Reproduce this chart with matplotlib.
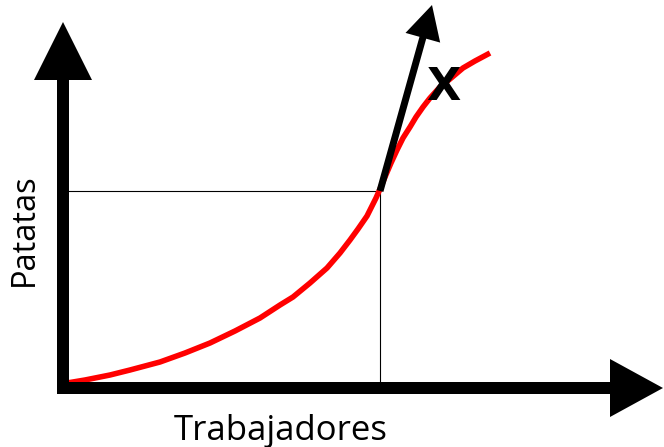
import matplotlib
matplotlib.use("Agg")
import matplotlib.pyplot as plt
from matplotlib.patches import FancyArrow

# red production curve (pixel coords, y down)
curve_x = [67, 85, 110, 130, 160, 185, 210, 235, 260, 280, 293, 310, 327, 340, 350,
           358, 367, 372, 376, 380, 385, 391, 397, 403, 410, 416, 423, 430, 440, 450, 463, 475, 490]
curve_y = [383, 380, 375, 370, 362, 353, 343, 331, 318, 305, 297, 283, 268, 253, 240,
           229, 216, 206, 198, 189, 177, 163, 150, 138, 127, 117, 107, 98, 87, 79, 68, 61, 53]

# point where the tangent touches the curve
point_x, point_y = 380, 191
tangent_tip = (432, 5)

x_label = "Trabajadores"
y_label = "Patatas"
tangent_label = "X"

fig = plt.figure(figsize=(6.64, 4.47), dpi=100)
ax = fig.add_axes([0, 0, 1, 1])
ax.set_xlim(0, 664)
ax.set_ylim(447, 0)
ax.axis("off")

# thick axes arrows
ax.add_patch(FancyArrow(63, 394, 0, -372, width=12, head_width=58, head_length=58,
                        length_includes_head=True, color="black", lw=0, zorder=3))
ax.add_patch(FancyArrow(57, 388, 606, 0, width=12, head_width=58, head_length=53,
                        length_includes_head=True, color="black", lw=0, zorder=3))

# thin guide lines to the point
ax.plot([67, point_x], [point_y, point_y], color="black", lw=0.8, zorder=1)
ax.plot([point_x, point_x], [point_y, 383], color="black", lw=0.8, zorder=1)

# curve
ax.plot(curve_x, curve_y, color="#ff0000", lw=4, solid_capstyle="butt",
        solid_joinstyle="round", zorder=2)

# tangent arrow
ax.add_patch(FancyArrow(point_x, point_y, tangent_tip[0] - point_x, tangent_tip[1] - point_y,
                        width=7, head_width=36, head_length=34,
                        length_includes_head=True, color="black", lw=0, zorder=4))

ax.text(443, 88, tangent_label, fontsize=32, fontweight="bold", family="DejaVu Sans",
        ha="center", va="center", zorder=5)
ax.text(281, 440, x_label, fontsize=25, family="Open Sans", ha="center", va="baseline")
ax.text(33, 230, y_label, fontsize=23.5, family="Open Sans", rotation=90,
        ha="center", va="baseline", rotation_mode="anchor")

fig.savefig("out.png", dpi=100)
